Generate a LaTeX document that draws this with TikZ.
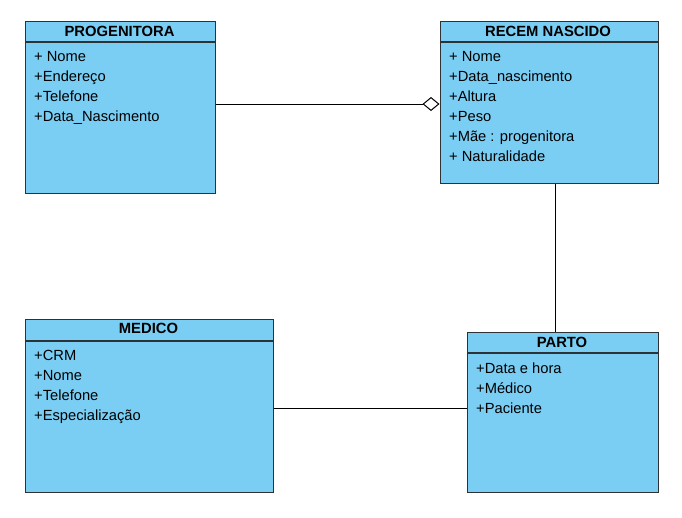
\documentclass[tikz,border=0pt]{standalone}
\usepackage{fontspec}
\setmainfont{Liberation Sans}
\usetikzlibrary{arrows.meta}
\definecolor{classblue}{RGB}{122,206,244}
\definecolor{classline}{RGB}{45,50,55}
\begin{document}
\begin{tikzpicture}[x=1pt,y=-1pt]

    \tikzset{classbox/.style={draw=classline,fill=classblue,line width=1.2pt,anchor=north west,inner sep=0pt},
             titlestyle/.style={anchor=base,inner sep=0pt,font=\bfseries\fontsize{14.8}{16}\selectfont},
             attrstyle/.style={anchor=base west,inner sep=0pt,font=\fontsize{14.7}{16}\selectfont},
             linkstyle/.style={draw=black,line width=1pt}}
    \useasboundingbox (0,0) rectangle (682,517);

    \node[classbox,minimum width=190pt,minimum height=172pt] (prog) at ( 25, 21) {};
    \node[classbox,minimum width=218pt,minimum height=162pt] (recem) at ( 439.5, 21) {};
    \node[classbox,minimum width=247.5pt,minimum height=173pt] (medico) at ( 25, 319) {};
    \node[classbox,minimum width=190.5pt,minimum height=160pt] (parto) at ( 467, 332) {};

    \begin{scope}[draw=classline,line width=1.2pt]
        \coordinate (hprog) at (0, 42);
        \coordinate (hmedico) at (0, 341);
        \coordinate (hparto) at (0, 353);
        \draw (prog.west |- hprog) -- (prog.east |- hprog);
        \draw (recem.west |- hprog) -- (recem.east |- hprog);
        \draw (medico.west |- hmedico) -- (medico.east |- hmedico);
        \draw (parto.west |- hparto) -- (parto.east |- hparto);
    \end{scope}

    \node[titlestyle] (tprog) at ( 119.5, 36) {PROGENITORA};
    \node[titlestyle] (trecem) at ( 548, 36) {RECEM NASCIDO};
    \node[titlestyle] (tmedico) at ( 148.5, 333) {MEDICO};
    \node[titlestyle] (tparto) at ( 562, 347) {PARTO};

    \node[attrstyle] (p1) at ( 34, 61) {+ Nome};
    \node[attrstyle] (p2) at ( 34, 81) {+Endereço};
    \node[attrstyle] (p3) at ( 34, 101) {+Telefone};
    \node[attrstyle] (p4) at ( 34, 121) {+Data\_Nascimento};

    \node[attrstyle] (r1) at ( 449, 61) {+ Nome};
    \node[attrstyle] (r2) at ( 449, 81) {+Data\_nascimento};
    \node[attrstyle] (r3) at ( 449, 101) {+Altura};
    \node[attrstyle] (r4) at ( 449, 121) {+Peso};
    \node[attrstyle] (r5) at ( 449, 141) {+Mãe : progenitora};
    \node[attrstyle] (r6) at ( 449, 161) {+ Naturalidade};

    \node[attrstyle] (m1) at ( 34, 360) {+CRM};
    \node[attrstyle] (m2) at ( 34, 380) {+Nome};
    \node[attrstyle] (m3) at ( 34, 400) {+Telefone};
    \node[attrstyle] (m4) at ( 34, 420) {+Especialização};

    \node[attrstyle] (a1) at ( 476, 373) {+Data e hora};
    \node[attrstyle] (a2) at ( 476, 393) {+Médico};
    \node[attrstyle] (a3) at ( 476, 413) {+Paciente};

    % ligacoes
    \coordinate (lprog) at (0, 104);
    \coordinate (lparto) at (555.5, 0);
    \coordinate (lmedico) at (0, 408.5);
    \draw[linkstyle,-{Diamond[fill=white,length=17pt,width=14pt]}] (prog.east |- lprog) -- (recem.west |- lprog);
    \draw[linkstyle] (recem.south -| lparto) -- (parto.north -| lparto);
    \draw[linkstyle] (medico.east |- lmedico) -- (parto.west |- lmedico);

\end{tikzpicture}
\end{document}
